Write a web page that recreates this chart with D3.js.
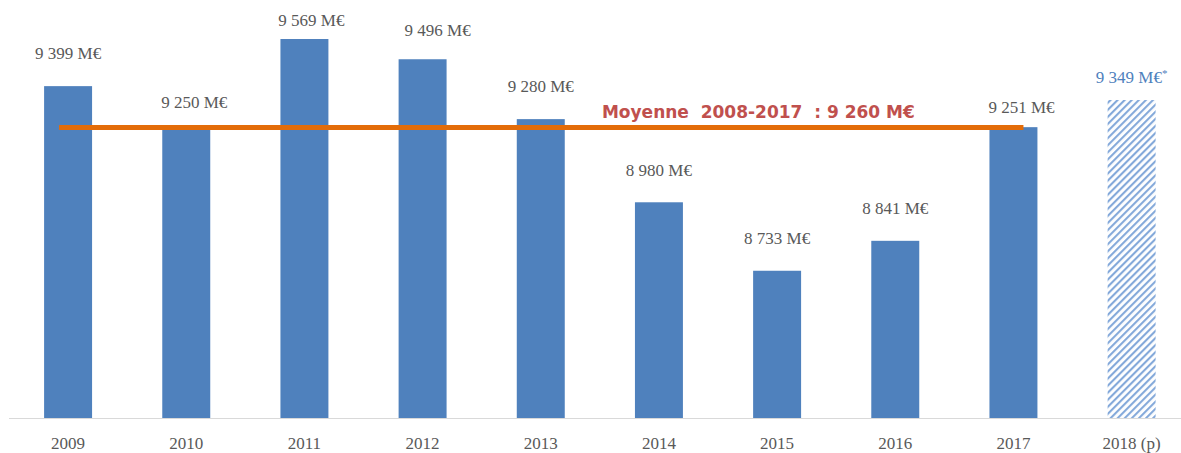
<!DOCTYPE html>
<meta charset="utf-8">
<style>
body { margin: 0; background: #fff; }
.val, .year {
  font-family: "Liberation Serif", "Times New Roman", serif;
  font-size: 17px;
  fill: #595959;
}
.avg-label {
  font-family: "DejaVu Sans", Verdana, sans-serif;
  font-weight: bold;
  font-size: 17px;
  fill: #C0504D;
  white-space: pre;
}
</style>
<svg width="1181" height="453"></svg>
<script src="https://d3js.org/d3.v7.min.js"></script>
<script>
// values (M€)
var years = ["2009", "2010", "2011", "2012", "2013", "2014", "2015", "2016", "2017", "2018 (p)"];
var amounts = [9399, 9250, 9569, 9496, 9280, 8980, 8733, 8841, 9251, 9349];
var forecast = [false, false, false, false, false, false, false, false, false, true];
var avgValue = 9260;        // shown in the label
var avgLineLevel = 9250;    // where the orange line actually sits
var avgLabel = "Moyenne  2008-2017  : 9 260 M€";

// hand-moved labels in the original (dx, dy in px)
var labelNudge = {
  "2010": [8, 7],
  "2011": [7, 14],
  "2012": [15, 3],
  "2017": [8, 13],
  "2018 (p)": [0, 10]
};

var svg = d3.select("svg"),
    width = +svg.attr("width"),
    height = +svg.attr("height");

var baseY = 418.5;
var x = d3.scaleBand()
    .domain(years)
    .range([9, 9 + 118.17 * years.length])
    .paddingInner(0.594)
    .paddingOuter(0.297);
var y = d3.scaleLinear()
    .domain([8200, 9700])
    .range([baseY, 2.7]);

var data = years.map(function(d, i) {
  return { year: d, value: amounts[i], forecast: forecast[i] };
});

var defs = svg.append("defs");
var pat = defs.append("pattern")
    .attr("id", "hatch")
    .attr("patternUnits", "userSpaceOnUse")
    .attr("width", 5)
    .attr("height", 10)
    .attr("patternTransform", "rotate(45)");
pat.append("rect")
    .attr("width", 5).attr("height", 10)
    .attr("fill", "#fff");
pat.append("rect")
    .attr("width", 2.1).attr("height", 10)
    .attr("fill", "#84A9DA");

var bw = x.bandwidth();

svg.append("g")
  .selectAll("rect")
  .data(data)
  .enter().append("rect")
    .attr("x", function(d) { return x(d.year); })
    .attr("y", function(d) { return y(d.value); })
    .attr("width", bw)
    .attr("height", function(d) { return baseY - y(d.value); })
    .attr("fill", function(d) { return d.forecast ? "url(#hatch)" : "#4F81BD"; });

// x axis
var xAxis = svg.append("g")
    .attr("transform", "translate(0," + baseY + ")")
    .call(d3.axisBottom(x).tickSize(0).tickPadding(22));
xAxis.select(".domain").remove();
xAxis.append("line")
    .attr("x1", 9).attr("x2", width)
    .attr("stroke", "#D9D9D9").attr("stroke-width", 1);
xAxis.selectAll(".tick text")
    .attr("class", "year")
    .attr("fill", null)
    .attr("font-family", null)
    .attr("font-size", null)
    .attr("dy", "0.71em")
    .attr("y", 18);

// average line
var cx = function(yr) { return x(yr) + bw / 2; };
svg.append("line")
    .attr("x1", cx("2009") - 9)
    .attr("x2", cx("2017") + 10)
    .attr("y1", y(avgLineLevel))
    .attr("y2", y(avgLineLevel))
    .attr("stroke", "#E36C09")
    .attr("stroke-width", 5);

svg.append("text")
    .attr("class", "avg-label")
    .attr("x", cx("2014") - 57)
    .attr("y", y(avgLineLevel) - 9)
    .text(avgLabel);

// value labels
var fmt = function(v) { return d3.format(",")(v).replace(/,/g, " ") + " M€"; };
var lab = svg.append("g")
  .selectAll("text")
  .data(data)
  .enter().append("text")
    .attr("class", "val")
    .attr("text-anchor", "middle")
    .attr("x", function(d) { return cx(d.year) + (labelNudge[d.year] ? labelNudge[d.year][0] : 0); })
    .attr("y", function(d) { return y(d.value) - 26.7 + (labelNudge[d.year] ? labelNudge[d.year][1] : 0); })
    .style("fill", function(d) { return d.forecast ? "#4F81BD" : null; })
    .text(function(d) { return fmt(d.value); });
lab.filter(function(d) { return d.forecast; })
  .append("tspan")
    .attr("font-size", "11px")
    .attr("dy", -6)
    .text("*");
</script>
